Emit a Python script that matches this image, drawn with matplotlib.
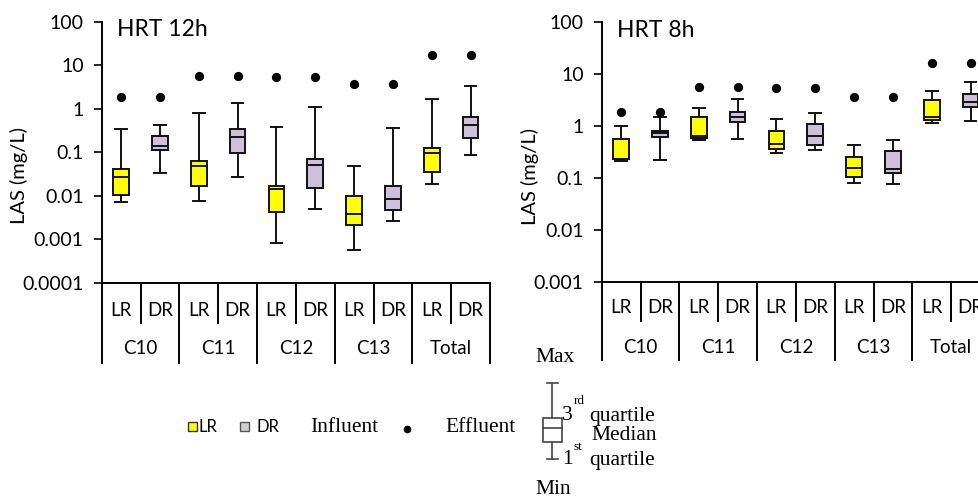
import matplotlib
matplotlib.use("Agg")
import matplotlib.pyplot as plt
from matplotlib.patches import Rectangle
from matplotlib.lines import Line2D

W, H = 979, 496

groups = ["C10", "C11", "C12", "C13", "Total"]
reactors = ["LR", "DR"]

# HRT 12h: (whislo, q1, med, q3, whishi) for LR/DR per group
hrt12_lr = [(0.0072, 0.0105, 0.027, 0.042, 0.35),
            (0.0078, 0.0166, 0.049, 0.064, 0.81),
            (0.00081, 0.0042, 0.0142, 0.0172, 0.38),
            (0.00056, 0.00215, 0.0039, 0.010, 0.0477),
            (0.0184, 0.0354, 0.098, 0.124, 1.65)]
hrt12_dr = [(0.034, 0.113, 0.142, 0.237, 0.417),
            (0.027, 0.098, 0.22, 0.35, 1.33),
            (0.0049, 0.0152, 0.051, 0.069, 1.1),
            (0.0026, 0.00466, 0.0083, 0.0169, 0.362),
            (0.088, 0.21, 0.43, 0.66, 3.27)]
hrt12_effluent = [1.86, 5.7, 5.37, 3.7, 16.9]

# HRT 8h
hrt8_lr = [(0.212, 0.232, 0.236, 0.57, 0.99),
           (0.531, 0.589, 0.653, 1.47, 2.23),
           (0.298, 0.361, 0.45, 0.79, 1.37),
           (0.0787, 0.103, 0.158, 0.25, 0.43),
           (1.13, 1.31, 1.47, 3.23, 4.74)]
hrt8_dr = [(0.218, 0.625, 0.724, 0.815, 1.52),
           (0.555, 1.18, 1.47, 1.9, 3.32),
           (0.351, 0.43, 0.653, 1.11, 1.79),
           (0.0753, 0.124, 0.147, 0.326, 0.538),
           (1.27, 2.37, 2.91, 4.15, 7.18)]
hrt8_effluent = [1.84, 5.75, 5.42, 3.63, 16.7]

ytick_12 = [0.0001, 0.001, 0.01, 0.1, 1, 10, 100]
ytick_lab_12 = ["0.0001", "0.001", "0.01", "0.1", "1", "10", "100"]
ytick_8 = [0.001, 0.01, 0.1, 1, 10, 100]
ytick_lab_8 = ["0.001", "0.01", "0.1", "1", "10", "100"]

LR_COLOR = "#FFFF00"
DR_COLOR = "#CCC0DA"

SANS = ["Lato", "DejaVu Sans"]
SERIF = ["Liberation Serif", "DejaVu Serif"]
plt.rcParams["font.family"] = SANS

fig = plt.figure(figsize=(W / 100, H / 100), dpi=100)


def px_rect(x0, y_top, x1, y_bot):
    return [x0 / W, 1 - y_bot / H, (x1 - x0) / W, (y_bot - y_top) / H]


def draw_panel(rect, lr, dr, eff, yticks, ylabs, title, h, row1_c, row2_c,
               row1_h, row2_h, ylab_xy):
    ax = fig.add_axes(rect)
    ax.set_yscale("log")
    ax.set_ylim(yticks[0], yticks[-1])
    ax.set_xlim(0, 10)
    stats = []
    colors = []
    pos = []
    eff_x = []
    eff_y = []
    for i in range(len(groups)):
        for j, (data, col) in enumerate(((lr, LR_COLOR), (dr, DR_COLOR))):
            lo, q1, med, q3, hi = data[i]
            stats.append(dict(whislo=lo, q1=q1, med=med, q3=q3, whishi=hi, fliers=[]))
            colors.append(col)
            p = 2 * i + j + 0.5
            pos.append(p)
            eff_x.append(p)
            eff_y.append(eff[i])
    bp = ax.bxp(stats, positions=pos, widths=0.4, patch_artist=True,
                showfliers=False,
                boxprops=dict(edgecolor="#111111", linewidth=1.4),
                medianprops=dict(color="#111111", linewidth=1.4),
                whiskerprops=dict(color="#111111", linewidth=1.4),
                capprops=dict(color="#111111", linewidth=1.4),
                capwidths=0.3)
    for patch, c in zip(bp["boxes"], colors):
        patch.set_facecolor(c)
    ax.scatter(eff_x, eff_y, s=32, color="black", zorder=5, clip_on=False)

    ax.set_yticks(yticks)
    ax.set_yticklabels(ylabs, fontsize=14)
    ax.yaxis.set_minor_locator(matplotlib.ticker.NullLocator())
    ax.tick_params(axis="y", direction="out", length=6, width=1.2, pad=7)
    ax.set_xticks([])
    for s in ("top", "right"):
        ax.spines[s].set_visible(False)
    ax.spines["left"].set_linewidth(1.4)
    ax.spines["bottom"].set_linewidth(1.4)
    ax.set_ylabel("LAS (mg/L)", fontsize=14.5)
    ax.yaxis.set_label_coords(*ylab_xy)
    ax.text(0.04, 0.97, title, transform=ax.transAxes, fontsize=16.5,
            ha="left", va="center")

    tr = ax.get_xaxis_transform()
    for k, p in enumerate(pos):
        ax.text(p, -row1_c / h, reactors[k % 2], transform=tr, ha="center",
                va="center", fontsize=13.5)
    for i, g in enumerate(groups):
        ax.text(2 * i + 1, -row2_c / h, g, transform=tr,
                ha="center", va="center", fontsize=13.5)
    for i in range(len(groups) + 1):
        ax.add_line(Line2D([2 * i, 2 * i], [0, -(row1_h + row2_h) / h],
                           transform=tr, color="black", lw=1.4, clip_on=False))
    for i in range(len(groups)):
        ax.add_line(Line2D([2 * i + 1, 2 * i + 1], [0, -row1_h / h],
                           transform=tr, color="black", lw=1.4, clip_on=False))
    return ax


hL = 283 - 21.7
draw_panel(px_rect(101.7, 21.7, 490, 283), hrt12_lr, hrt12_dr, hrt12_effluent,
           ytick_12, ytick_lab_12, "HRT 12h", hL, 27, 66, 39.5, 40,
           ((28.3 - 101.7) / 388.3, 0.413))
hR = 281.7 - 22.3
draw_panel(px_rect(601.7, 22.3, 990, 281.7), hrt8_lr, hrt8_dr, hrt8_effluent,
           ytick_8, ytick_lab_8, "HRT 8h", hR, 25.5, 66, 39.3, 39,
           ((539 - 601.7) / 388.3, 0.405))


def fx(x):
    return x / W


def fy(y):
    return 1 - y / H


# legend
fig.patches.append(Rectangle((fx(188), fy(431)), 9 / W, 9 / H, transform=fig.transFigure,
                             facecolor=LR_COLOR, edgecolor="#333333", lw=1.0))
fig.text(fx(199), fy(427), "LR", fontsize=12, ha="left", va="center")
fig.patches.append(Rectangle((fx(240), fy(431)), 9 / W, 9 / H, transform=fig.transFigure,
                             facecolor="#D0D0D0", edgecolor="#555555", lw=1.0))
fig.text(fx(256), fy(427), "DR", fontsize=12, ha="left", va="center")
fig.text(fx(310), fy(427), "Influent", fontsize=15.5, family=SERIF, ha="left", va="center")
fig.add_artist(Line2D([fx(406.7)], [fy(429)], marker="o", markersize=4.5,
                      color="black", transform=fig.transFigure))
fig.text(fx(445), fy(427), "Effluent", fontsize=15.5, family=SERIF, ha="left", va="center")

gc = "#444444"
ix = 552.5
fig.add_artist(Line2D([fx(ix), fx(ix)], [fy(383), fy(418)], color=gc, lw=1.2, transform=fig.transFigure))
fig.add_artist(Line2D([fx(ix), fx(ix)], [fy(442), fy(459)], color=gc, lw=1.2, transform=fig.transFigure))
fig.add_artist(Line2D([fx(547), fx(558)], [fy(383), fy(383)], color=gc, lw=1.2, transform=fig.transFigure))
fig.add_artist(Line2D([fx(547), fx(558)], [fy(459), fy(459)], color=gc, lw=1.2, transform=fig.transFigure))
fig.patches.append(Rectangle((fx(543), fy(442)), 19 / W, 24 / H, transform=fig.transFigure,
                             facecolor="white", edgecolor=gc, lw=1.2))
fig.add_artist(Line2D([fx(543), fx(562)], [fy(428), fy(428)], color=gc, lw=1.2, transform=fig.transFigure))

fig.text(fx(535), fy(357), "Max", fontsize=15.5, family=SERIF, ha="left", va="center")
fig.text(fx(535), fy(490), "Min", fontsize=15.5, family=SERIF, ha="left", va="center")
fig.text(fx(562), fy(415), "3", fontsize=15.5, family=SERIF, ha="left", va="center")
fig.text(fx(574), fy(401), "rd", fontsize=9.5, family=SERIF, ha="left", va="center")
fig.text(fx(589), fy(416), "quartile", fontsize=15.5, family=SERIF, ha="left", va="center")
fig.text(fx(591), fy(435), "Median", fontsize=15.5, family=SERIF, ha="left", va="center")
fig.text(fx(562), fy(459), "1", fontsize=15.5, family=SERIF, ha="left", va="center")
fig.text(fx(574), fy(447), "st", fontsize=9.5, family=SERIF, ha="left", va="center")
fig.text(fx(589), fy(460), "quartile", fontsize=15.5, family=SERIF, ha="left", va="center")

fig.savefig("out.png", dpi=100)
